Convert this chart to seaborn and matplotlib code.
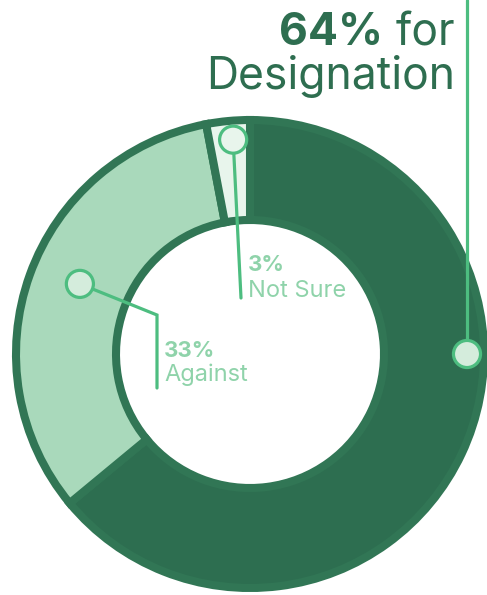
import numpy as np
import pandas as pd
import matplotlib
matplotlib.use("Agg")
import matplotlib.pyplot as plt
import seaborn as sns

# data
labels = ["for Designation", "Against", "Not Sure"]
shares = [64, 33, 3]
fills = ["#2d6e50", "#a9d9bb", "#e8f5ec"]

sns.set_theme(style="white")
plt.rcParams["font.family"] = ["Inter", "DejaVu Sans"]

W, H = 487, 595
fig = plt.figure(figsize=(W / 100, H / 100), dpi=100)
ax = fig.add_axes([0, 0, 1, 1])

cx, cy = 250, H - 354
edge = "#317655"
line_c = "#4dbd80"
label_c = "#8fd3aa"
dark_c = "#2e6e50"

ax.pie(shares, colors=fills, startangle=90, counterclock=False,
       radius=234, center=(cx, cy),
       wedgeprops=dict(width=100, edgecolor=edge, linewidth=5.8))

# pie resets the limits, so set them back to pixel space
ax.set_xlim(0, W)
ax.set_ylim(0, H)
ax.set_aspect("equal")
ax.axis("off")

# marker anchors (angle in degrees, radius) per category
anchors = {"for Designation": (0, 217), "Against": (157.6, 184), "Not Sure": (94.5, 215)}
mk = pd.DataFrame({
    "label": labels,
    "x": [cx + anchors[l][1] * np.cos(np.radians(anchors[l][0])) for l in labels],
    "y": [cy + anchors[l][1] * np.sin(np.radians(anchors[l][0])) for l in labels],
})
face = {"for Designation": "#d4ecdc", "Against": "#d4ecdc", "Not Sure": "#e8f5ec"}

# leader lines
p = mk.set_index("label")
lw = 2.3
ax.plot([p.loc["for Designation", "x"]] * 2, [p.loc["for Designation", "y"], H], color=line_c, lw=lw, zorder=3)
ax.plot([p.loc["Against", "x"], 157, 157], [p.loc["Against", "y"], H - 315, H - 388],
        color=line_c, lw=lw, solid_joinstyle="miter", zorder=3)
ax.plot([p.loc["Not Sure", "x"], 241], [p.loc["Not Sure", "y"], H - 298], color=line_c, lw=lw, zorder=3)

sns.scatterplot(data=mk, x="x", y="y", hue="label", palette=face, s=380,
                edgecolor=line_c, linewidth=2.3, legend=False, ax=ax, zorder=4)
ax.set_xlim(0, W)
ax.set_ylim(0, H)

# text
t_for = ax.text(455, H - 45, "for", ha="right", va="baseline", fontsize=32, color=dark_c)
ax.text(455, H - 89, "Designation", ha="right", va="baseline", fontsize=32, color=dark_c)
fig.canvas.draw()
bb = t_for.get_window_extent()
x0 = ax.transData.inverted().transform((bb.x0, bb.y0))[0]
ax.text(x0 - 12, H - 45, f"{shares[0]}%", ha="right", va="baseline", fontsize=32,
        fontweight="bold", color=dark_c)

ax.text(248, H - 271, f"{shares[2]}%", ha="left", va="baseline", fontsize=16,
        fontweight="bold", color=label_c)
ax.text(248, H - 297, "Not Sure", ha="left", va="baseline", fontsize=17, color=label_c)
ax.text(164, H - 357, f"{shares[1]}%", ha="left", va="baseline", fontsize=16,
        fontweight="bold", color=label_c)
ax.text(164, H - 381, "Against", ha="left", va="baseline", fontsize=17, color=label_c)

fig.savefig("out.png", dpi=100)
